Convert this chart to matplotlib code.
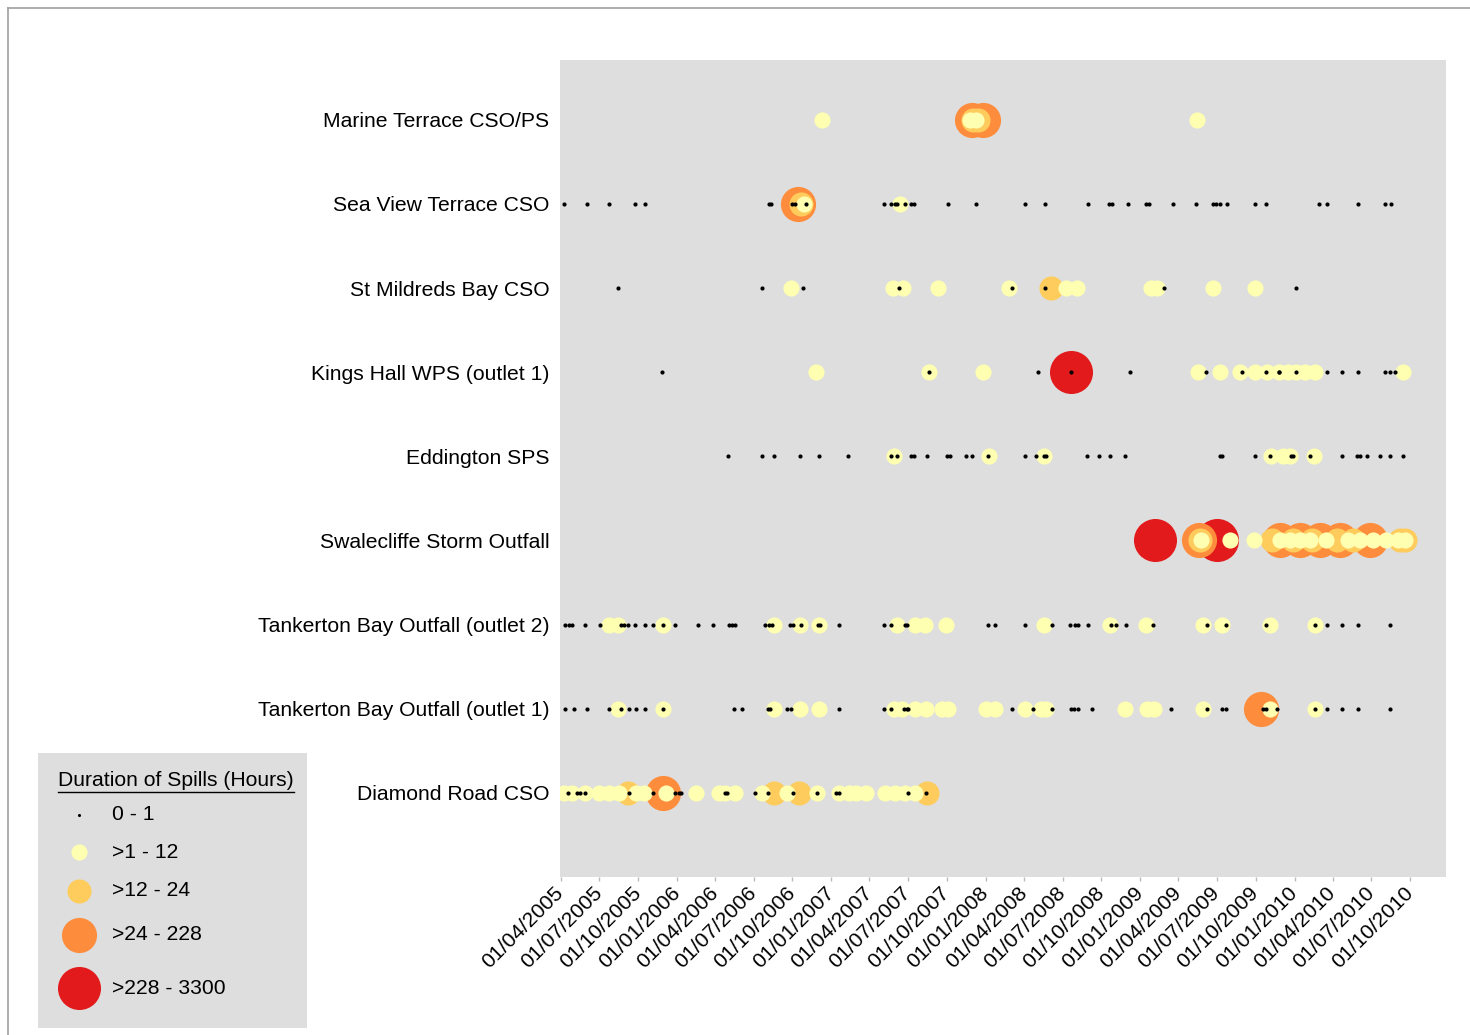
import pandas as pd
import matplotlib
matplotlib.use('Agg')
import matplotlib.pyplot as plt
from matplotlib.lines import Line2D

plt.rcParams['font.family'] = ['Liberation Sans', 'DejaVu Sans']

# sites, top to bottom
SITES = ['Marine Terrace CSO/PS', 'Sea View Terrace CSO', 'St Mildreds Bay CSO',
         'Kings Hall WPS (outlet 1)', 'Eddington SPS', 'Swalecliffe Storm Outfall',
         'Tankerton Bay Outfall (outlet 2)', 'Tankerton Bay Outfall (outlet 1)',
         'Diamond Road CSO']

CLASSES = ['0 - 1', '>1 - 12', '>12 - 24', '>24 - 228', '>228 - 3300']

# spill dates per duration class (0 = 0-1h ... 4 = >228h)
marine_terrace = {
    1: ['2006-12-09', '2007-11-26', '2007-12-10', '2009-05-15'],
    2: ['2007-12-03', '2007-12-14'],
    3: ['2007-11-30', '2007-12-26'],
}
sea_view = {
    0: ['2005-04-09', '2005-06-01', '2005-07-23', '2005-09-24', '2005-10-16', '2006-08-06',
        '2006-08-12', '2006-09-29', '2006-10-06', '2006-11-01', '2007-05-06', '2007-05-22',
        '2007-06-01', '2007-06-06', '2007-06-23', '2007-07-08', '2007-07-15', '2007-10-03',
        '2007-12-10', '2008-04-04', '2008-05-21', '2008-08-29', '2008-10-18', '2008-10-26',
        '2008-12-03', '2009-01-15', '2009-01-21', '2009-03-18', '2009-05-12', '2009-06-22',
        '2009-06-29', '2009-07-08', '2009-07-24', '2009-09-30', '2009-10-25', '2010-02-28',
        '2010-03-18', '2010-05-30', '2010-08-02', '2010-08-16'],
    1: ['2006-10-28', '2007-06-13'],
    2: ['2006-10-22'],
    3: ['2006-10-13'],
}
st_mildreds = {
    0: ['2005-08-14', '2006-07-20', '2006-10-25', '2007-06-09', '2008-03-04', '2008-05-21',
        '2009-02-26', '2010-01-05'],
    1: ['2006-09-28', '2007-05-27', '2007-06-20', '2007-09-10', '2008-02-25', '2008-07-09',
        '2008-08-03', '2009-01-25', '2009-02-10', '2009-06-22', '2009-09-30'],
    2: ['2008-06-04'],
}
kings_hall = {
    0: ['2005-11-27', '2007-08-19', '2008-05-04', '2008-07-20', '2008-12-07', '2009-06-05',
        '2009-08-29', '2009-10-25', '2009-11-24', '2009-11-26', '2010-01-03', '2010-03-18',
        '2010-04-22', '2010-05-30', '2010-08-02', '2010-08-14', '2010-08-27'],
    1: ['2006-11-25', '2007-08-19', '2007-12-25', '2009-05-18', '2009-07-08', '2009-08-25',
        '2009-09-30', '2009-10-27', '2009-11-24', '2009-12-17', '2010-01-03', '2010-01-26',
        '2010-02-19', '2010-09-15'],
    4: ['2008-07-20'],
}
eddington = {
    0: ['2006-05-01', '2006-07-22', '2006-08-19', '2006-10-18', '2006-12-02', '2007-02-09',
        '2007-05-22', '2007-06-05', '2007-07-08', '2007-07-16', '2007-08-15', '2007-10-01',
        '2007-10-08', '2007-11-16', '2007-11-30', '2008-01-07', '2008-04-04', '2008-04-29',
        '2008-05-19', '2008-05-23', '2008-08-28', '2008-09-26', '2008-10-22', '2008-11-25',
        '2009-07-08', '2009-07-14', '2009-09-30', '2009-11-03', '2009-12-23', '2009-12-28',
        '2010-02-07', '2010-04-22', '2010-05-29', '2010-06-04', '2010-06-21', '2010-07-23',
        '2010-08-14', '2010-09-15'],
    1: ['2007-05-30', '2008-01-08', '2008-05-19', '2009-11-06', '2009-12-04', '2009-12-21',
        '2010-02-15'],
}
swalecliffe = {
    1: ['2009-05-24', '2009-08-01', '2009-09-27', '2009-11-28', '2009-12-21', '2010-01-14',
        '2010-02-07', '2010-03-15', '2010-05-07', '2010-06-04', '2010-07-05', '2010-08-06',
        '2010-09-03', '2010-09-19'],
    2: ['2009-05-21', '2009-11-09', '2009-12-29', '2010-02-11', '2010-04-10', '2010-05-19',
        '2010-09-08', '2010-09-19'],
    3: ['2009-05-20', '2009-11-28', '2010-01-14', '2010-03-01', '2010-04-18', '2010-06-28'],
    4: ['2009-02-04', '2009-07-02'],
}
tankerton_2 = {
    0: ['2005-04-12', '2005-04-20', '2005-04-28', '2005-05-29', '2005-07-02', '2005-08-22',
        '2005-08-28', '2005-09-08', '2005-09-24', '2005-10-16', '2005-11-04', '2005-11-29',
        '2005-12-27', '2006-02-19', '2006-03-28', '2006-05-03', '2006-05-11', '2006-05-19',
        '2006-07-29', '2006-08-06', '2006-08-14', '2006-09-25', '2006-10-02', '2006-10-20',
        '2006-12-01', '2006-12-04', '2007-01-19', '2007-05-06', '2007-05-22', '2007-06-23',
        '2007-06-30', '2008-01-07', '2008-01-24', '2008-04-04', '2008-06-06', '2008-07-19',
        '2008-07-31', '2008-08-06', '2008-08-29', '2008-10-24', '2008-11-04', '2008-11-27',
        '2009-02-01', '2009-06-07', '2009-07-22', '2009-10-25', '2010-02-17', '2010-03-18',
        '2010-04-22', '2010-05-30', '2010-08-14'],
    1: ['2005-07-23', '2005-08-15', '2005-11-29', '2006-08-19', '2006-10-18', '2006-12-02',
        '2007-06-05', '2007-07-18', '2007-08-11', '2007-09-28', '2008-05-19', '2008-10-22',
        '2009-01-14', '2009-05-30', '2009-07-12', '2009-11-03', '2010-02-17'],
}
tankerton_1 = {
    0: ['2005-04-12', '2005-05-02', '2005-06-01', '2005-07-23', '2005-08-22', '2005-09-09',
        '2005-09-26', '2005-10-17', '2005-11-29', '2006-05-15', '2006-06-04', '2006-08-04',
        '2006-08-09', '2006-09-17', '2006-09-27', '2007-01-19', '2007-05-06', '2007-05-21',
        '2007-06-22', '2007-06-29', '2007-07-02', '2008-03-04', '2008-04-21', '2008-06-06',
        '2008-07-20', '2008-07-28', '2008-08-06', '2008-09-09', '2009-03-14', '2009-06-07',
        '2009-07-14', '2009-07-22', '2009-10-19', '2009-10-25', '2009-11-21', '2010-02-17',
        '2010-03-18', '2010-04-22', '2010-05-30', '2010-08-14'],
    1: ['2005-08-15', '2005-11-29', '2006-08-18', '2006-10-18', '2006-12-02', '2007-05-30',
        '2007-06-17', '2007-07-18', '2007-08-13', '2007-09-20', '2007-10-05', '2008-01-01',
        '2008-01-24', '2008-04-04', '2008-05-11', '2008-05-23', '2008-11-25', '2009-01-16',
        '2009-02-02', '2009-05-30', '2009-11-03', '2010-02-17'],
    3: ['2009-10-13'],
}
diamond_road = {
    0: ['2005-04-19', '2005-05-10', '2005-05-17', '2005-05-28', '2005-09-09', '2005-11-04',
        '2005-12-27', '2006-01-05', '2006-01-10', '2006-04-24', '2006-04-30', '2006-07-04',
        '2006-08-03', '2006-10-02', '2006-11-29', '2007-01-13', '2007-01-19', '2007-07-02',
        '2007-08-14'],
    1: ['2005-04-09', '2005-04-28', '2005-05-29', '2005-06-30', '2005-07-23', '2005-08-17',
        '2005-09-26', '2005-10-15', '2005-12-05', '2006-02-15', '2006-04-10', '2006-04-25',
        '2006-05-19', '2006-07-21', '2006-09-19', '2006-11-29', '2007-01-19', '2007-02-12',
        '2007-02-28', '2007-03-25', '2007-05-08', '2007-06-01', '2007-06-24', '2007-07-18'],
    2: ['2005-09-06', '2006-08-18', '2006-10-16', '2007-08-15'],
    3: ['2005-11-28'],
}

spills = [marine_terrace, sea_view, st_mildreds, kings_hall, eddington,
          swalecliffe, tankerton_2, tankerton_1, diamond_road]

colours = ['black', '#FFFFB2', '#FECC5C', '#FD8D3C', '#E31A1C']
sizes = [9, 135, 300, 640, 960]
bg = '#DEDEDE'
FS = 15.2

if __name__ == '__main__':
    fig = plt.figure(figsize=(14.7, 10.35), dpi=100)
    ax = fig.add_axes([560 / 1470, 1 - 877 / 1035, 886 / 1470, 817 / 1035])
    ax.set_facecolor(bg)

    n = len(SITES)
    # draw the big classes first so the small ones sit on top
    for k in range(4, -1, -1):
        for i, site in enumerate(spills):
            dates = pd.to_datetime(site.get(k, []))
            if len(dates) == 0:
                continue
            ax.scatter(dates, [n - 1 - i] * len(dates), s=sizes[k], c=colours[k],
                       linewidths=0, zorder=10 - k)

    ax.set_yticks(range(n))
    ax.set_yticklabels(SITES[::-1], fontsize=FS)
    ax.set_ylim(-1.0, 8.71)
    ax.tick_params(axis='y', length=0, pad=7.5)

    ticks = pd.date_range('2005-04-01', '2010-10-01', freq='QS')
    ax.set_xticks(ticks)
    ax.set_xticklabels([t.strftime('%d/%m/%Y') for t in ticks], rotation=45,
                       ha='right', va='center', rotation_mode='anchor', fontsize=FS)
    ax.set_xlim(pd.Timestamp('2005-03-30'), pd.Timestamp('2010-12-25'))
    ax.tick_params(axis='x', length=3, width=1, color='#BBBBBB', labelcolor='black', pad=6)
    for s in ax.spines.values():
        s.set_visible(False)

    # legend panel
    lg = fig.add_axes([38 / 1470, 1 - 1028 / 1035, 269 / 1470, 275 / 1035])
    lg.set_facecolor(bg)
    lg.set_xlim(0, 269)
    lg.set_ylim(275, 0)
    lg.set_xticks([])
    lg.set_yticks([])
    for s in lg.spines.values():
        s.set_visible(False)
    title = lg.text(20, 28, 'Duration of Spills (Hours)', fontsize=FS, va='center')
    rows_y = [62, 99, 138, 182, 235]
    for k, lab in enumerate(CLASSES):
        lg.scatter([41], [rows_y[k]], s=sizes[k] if k else 5, c=colours[k], linewidths=0)
        lg.text(74, rows_y[k], lab, fontsize=FS, va='center')

    fig.canvas.draw()
    bb = title.get_window_extent()
    inv = lg.transData.inverted()
    (x0, y0), (x1, _) = inv.transform([(bb.x0, bb.y0), (bb.x1, bb.y0)])
    lg.plot([x0, x1], [y0 + 1, y0 + 1], color='black', lw=1)

    # screenshot frame
    fig.add_artist(Line2D([8 / 1470, 1], [1 - 8 / 1035, 1 - 8 / 1035], color='#A0A0A0', lw=1.2))
    fig.add_artist(Line2D([8 / 1470, 8 / 1470], [0, 1 - 8 / 1035], color='#A0A0A0', lw=1.2))

    plt.savefig('out.png', dpi=100)
